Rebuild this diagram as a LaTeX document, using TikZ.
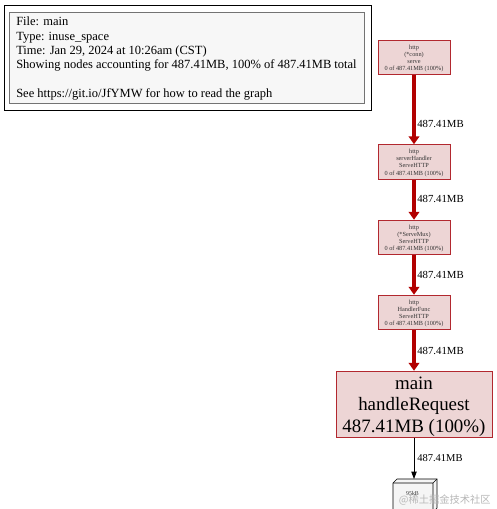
\documentclass[tikz,border=0pt]{standalone}
\usepackage{fontspec}
\setmainfont{Liberation Serif}
\newfontfamily\cjk{Noto Sans CJK SC}
\usetikzlibrary{arrows.meta}
\definecolor{redfill}{HTML}{EDD5D5}
\definecolor{reddraw}{HTML}{B2282F}
\definecolor{hot}{HTML}{B20000}
\tikzset{
 x=0.75pt,y=-0.75pt,
 small/.style={draw=reddraw,fill=redfill,line width=0.6pt,minimum width=54pt,minimum height=26pt,inner sep=0pt,align=center,font=\fontsize{4.7}{5.4}\selectfont,text=black!80},
 big/.style={draw=reddraw,fill=redfill,line width=0.6pt,minimum width=117pt,minimum height=50pt,inner sep=0pt,align=center,font=\fontsize{14.2}{16}\selectfont},
 hotedge/.style={draw=hot,line width=3pt,-{Triangle[length=6pt,width=8pt]}},
 elabel/.style={font=\fontsize{8.1}{9}\selectfont,anchor=west,inner sep=0pt},
}
\begin{document}
\begin{tikzpicture}
\useasboundingbox (0,0) rectangle (496,509);
\fill[white] (0,0) rectangle (496,509);
\node[draw=black,line width=0.7pt,minimum width=275.25pt,minimum height=78.75pt,inner sep=0pt] (outer) at (187.5,57.5) {};
\node[draw=black!55,fill=black!3,line width=0.9pt,minimum width=266.25pt,minimum height=68.25pt,inner sep=0pt,anchor=north west] (legend) at (9,12) {};
\node[anchor=west,align=left,inner sep=0pt,font=\fontsize{9.37}{10.7}\selectfont] (legendtext) at (16,58.5) {File: main\\Type: inuse\_space\\Time: Jan 29, 2024 at 10:26am (CST)\\Showing nodes accounting for 487.41MB, 100\% of 487.41MB total\\[10.7pt]See https://git.io/JfYMW for how to read the graph};
\node[small] (n1) at (414,57.5) {\rule{0pt}{4.6pt}http\\(*conn)\\serve\\0 of 487.41MB (100\%)};
\node[small] (n2) at (414,162) {\rule{0pt}{4.6pt}http\\serverHandler\\ServeHTTP\\0 of 487.41MB (100\%)};
\node[small] (n3) at (414,237.5) {\rule{0pt}{4.6pt}http\\(*ServeMux)\\ServeHTTP\\0 of 487.41MB (100\%)};
\node[small] (n4) at (414,312.5) {\rule{0pt}{4.6pt}http\\HandlerFunc\\ServeHTTP\\0 of 487.41MB (100\%)};
\node[big] (n5) at (414,404.5) {\rule{0pt}{12.6pt}main\\handleRequest\\487.41MB (100\%)};
% cube
\coordinate (c1) at (393,483);
\coordinate (c2) at (433,483);
\coordinate (c3) at (437,479);
\coordinate (c4) at (397,479);
\coordinate (c5) at (393,512);
\coordinate (c6) at (433,512);
\coordinate (c7) at (437,508);
\fill[black!4,draw=black,line width=0.5pt] (c1)--(c4)--(c3)--(c7)--(c6)--(c5)--cycle;
\draw[black,line width=0.5pt] (c1)--(c2)--(c3) (c2)--(c6);
\node[inner sep=0pt,font=\fontsize{4.4}{5}\selectfont,text=black!80] (n6) at (412.5,493) {95kB};
\coordinate (n6top) at (414,479);
\draw[hotedge] (n1) -- (n2);
\draw[hotedge] (n2) -- (n3);
\draw[hotedge] (n3) -- (n4);
\draw[hotedge] (n4) -- (n5);
\draw[black,line width=0.6pt,-{Triangle[length=5.5pt,width=4pt]}] (n5) -- (n6top);
\node[elabel] (l1) at (417,124) {487.41MB};
\node[elabel] (l2) at (417,199) {487.41MB};
\node[elabel] (l3) at (417,274.5) {487.41MB};
\node[elabel] (l4) at (417,350.5) {487.41MB};
\node[elabel,font=\fontsize{7.9}{9}\selectfont] (l5) at (417,458) {487.41MB};
\node[anchor=east,inner sep=0pt,font=\cjk\fontsize{7.7}{9}\selectfont,text=black!28] (wm) at (491,500) {@稀土掘金技术社区};
\end{tikzpicture}
\end{document}
